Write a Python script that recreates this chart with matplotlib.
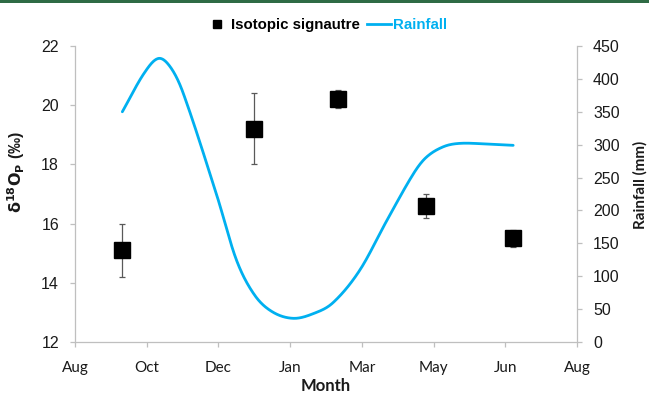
import numpy as np
import matplotlib
matplotlib.use("Agg")
import matplotlib.pyplot as plt
from matplotlib.patches import Rectangle
from matplotlib.lines import Line2D

# Month tick labels on the shared x axis (evenly spaced positions 0..7)
month_labels = ["Aug", "Oct", "Dec", "Jan", "Mar", "May", "Jun", "Aug"]

# Isotopic signature of phosphate oxygen (per mil) with error bars
iso_x = [0.65, 2.50, 3.67, 4.90, 6.11]
iso_val = [15.1, 19.2, 20.2, 16.6, 15.5]
iso_err = [0.9, 1.2, 0.3, 0.4, 0.3]

# Rainfall (mm) along the sampling period
rain_x = [0.66, 0.96, 1.16, 1.33, 1.51, 1.98, 2.25, 2.50, 2.75, 3.04,
          3.32, 3.60, 3.97, 4.35, 4.72, 4.90, 5.14, 5.37, 5.74, 6.11]
rain_val = [350, 408, 431, 418, 378, 222, 125, 72, 46, 36,
            43, 60, 109, 185, 256, 281, 297, 302, 301, 299]

RAIN_COLOR = "#00B0F0"
AXIS_COLOR = "#BFBFBF"
TEXT_COLOR = "#1a1a1a"


def smooth_curve(xs, ys, steps=30):
    """Cubic Hermite smoothing through the points (Catmull-Rom style tangents)."""
    x = np.asarray(xs, float)
    y = np.asarray(ys, float)
    n = len(x)
    m = np.empty(n)
    m[1:-1] = (y[2:] - y[:-2]) / (x[2:] - x[:-2])
    m[0] = (y[1] - y[0]) / (x[1] - x[0])
    m[-1] = (y[-1] - y[-2]) / (x[-1] - x[-2])
    px, py = [], []
    for i in range(n - 1):
        h = x[i + 1] - x[i]
        t = np.linspace(0, 1, steps, endpoint=False)
        h00 = 2 * t**3 - 3 * t**2 + 1
        h10 = t**3 - 2 * t**2 + t
        h01 = -2 * t**3 + 3 * t**2
        h11 = t**3 - t**2
        px.append(x[i] + t * h)
        py.append(h00 * y[i] + h10 * h * m[i] + h01 * y[i + 1] + h11 * h * m[i + 1])
    px.append([x[-1]])
    py.append([y[-1]])
    return np.concatenate(px), np.concatenate(py)


fig = plt.figure(figsize=(6.49, 3.94), dpi=100)
fig.patch.set_facecolor("white")
# thin dark green band along the top edge
fig.add_artist(Rectangle((0, 1 - 3 / 394), 1, 3 / 394, transform=fig.transFigure,
                         facecolor="#2F6B45", edgecolor="none"))

ax = fig.add_axes([75 / 649, 1 - 342 / 394, (577 - 75) / 649, (342 - 46) / 394])
ax2 = ax.twinx()

num_font = "Liberation Sans"
cal_font = "Lato"

# isotope points
ax.errorbar(iso_x, iso_val, yerr=iso_err, fmt="s", color="black", ms=11,
            mec="black", ecolor="#595959", elinewidth=0.9, capsize=2.5,
            capthick=0.9, zorder=3)

# rainfall smoothed line
sx, sy = smooth_curve(rain_x, rain_val)
ax2.plot(sx, sy, color=RAIN_COLOR, lw=2.0, solid_capstyle="round", zorder=2)

ax.set_xlim(0, 7)
ax.set_ylim(12, 22)
ax.set_yticks(np.arange(12, 23, 2))
ax.set_xticks(np.arange(len(month_labels)))
ax.set_xticklabels(month_labels)
ax2.set_ylim(0, 450)
ax2.set_yticks(np.arange(0, 451, 50))

for a in (ax, ax2):
    for s in a.spines.values():
        s.set_color(AXIS_COLOR)
        s.set_linewidth(0.9)
    a.spines["top"].set_visible(False)
    a.tick_params(colors=AXIS_COLOR, width=0.9, length=3.5, direction="out",
                  labelcolor=TEXT_COLOR, labelsize=11.5, pad=8)
    for lbl in a.get_yticklabels():
        lbl.set_fontfamily(num_font)
ax.tick_params(axis="x", pad=10)
ax.spines["right"].set_visible(False)
ax2.spines["left"].set_visible(False)
ax2.spines["bottom"].set_visible(False)
for lbl in ax.get_xticklabels():
    lbl.set_fontfamily(cal_font)
    lbl.set_fontsize(11)

ax.set_xlabel("Month", fontfamily=cal_font, fontweight="bold", fontsize=12,
              color=TEXT_COLOR, va="center")
ax.xaxis.set_label_coords(0.5, (342 - 386) / 296)
ax.set_ylabel(r"$\mathbf{\delta^{18}O_P}$ (‰)", fontfamily=num_font,
              fontweight="bold", fontsize=11.5, color=TEXT_COLOR, va="center")
ax.yaxis.set_label_coords((16 - 75) / 502, (342 - 172) / 296)
ax2.set_ylabel("Rainfall (mm)", fontfamily=cal_font, fontweight="bold",
               fontsize=11, color=TEXT_COLOR, va="center", rotation=90)
ax2.yaxis.set_label_coords((640 - 75) / 502, (342 - 185) / 296)

handles = [Line2D([], [], marker="s", color="black", ls="none", ms=6),
           Line2D([], [], color=RAIN_COLOR, lw=2)]
leg = fig.legend(handles, ["Isotopic signautre", "Rainfall"], loc="center",
                 bbox_to_anchor=(326 / 649, 1 - 25 / 394), ncol=2, frameon=False,
                 prop={"family": num_font, "weight": "bold", "size": 10.8},
                 handlelength=1.6, handletextpad=0.15, columnspacing=0.45,
                 borderpad=0, borderaxespad=0)
leg.get_texts()[1].set_color(RAIN_COLOR)

fig.savefig("out.png", dpi=100, facecolor="white")
